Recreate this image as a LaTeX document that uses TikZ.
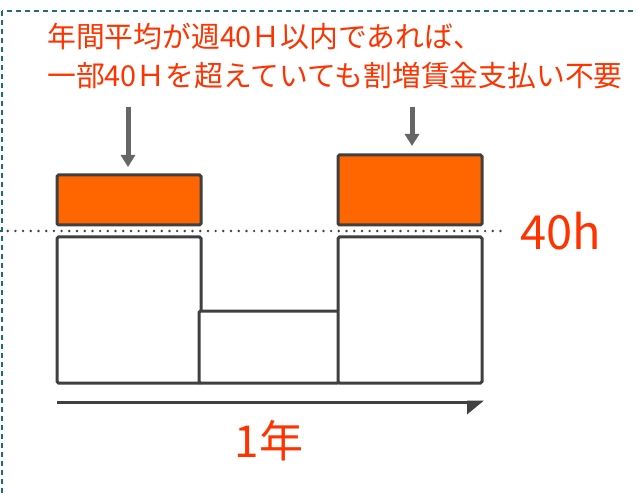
\documentclass[tikz,border=0pt]{standalone}
\usepackage{fontspec}
\setmainfont{Noto Sans CJK JP}
\usetikzlibrary{arrows.meta}
\definecolor{txtred}{HTML}{FF3300}
\definecolor{fillor}{HTML}{FF6600}
\definecolor{edgegray}{HTML}{404040}
\definecolor{arrgray}{HTML}{666666}
\definecolor{bordercol}{HTML}{1F6E6B}
\begin{document}
\begin{tikzpicture}[x=1pt,y=-1pt,
  barbox/.style={draw=edgegray, line width=3pt, rounded corners=1.5pt, minimum width=144pt, inner sep=0pt, outer sep=0pt},
  hotbox/.style={barbox, fill=fillor},
  plainbox/.style={barbox, fill=white},
  downarr/.style={draw=arrgray, line width=5pt, -{Triangle[width=14pt,length=12pt]}},
  redtxt/.style={text=txtred, inner sep=0pt},
  bigtxt/.style={redtxt, font=\fontsize{44}{48}\selectfont},
  captxt/.style={redtxt, font=\fontsize{28.8}{32}\selectfont}
]
\useasboundingbox (0,0) rectangle (637,494);
\clip (0,0) rectangle (637,494);
\fill[white] (0,0) rectangle (637,494);
\draw[bordercol, line width=1.6pt, dash pattern=on 5pt off 4pt] (2,11) rectangle (700,560);

% caption
\node[captxt, anchor=base west] (t1) at (47,48) {年間平均が週40Ｈ以内であれば、};
\node[captxt, anchor=base west] (t2) at (47,87) {一部40Ｈを超えていても割増賃金支払い不要};

% white bars
\node[plainbox, minimum height=146pt] (w1) at (129,310) {};
\node[plainbox, minimum width=140pt, minimum height=72pt] (w2) at (269,347) {};
\node[plainbox, minimum height=146pt] (w3) at (410,310) {};

% orange bars
\node[hotbox, minimum height=50pt] (o1) at (129,200) {};
\node[hotbox, minimum height=70pt] (o2) at (410,190) {};

% dotted 40h line
\coordinate (d1) at (0,231);
\coordinate (d2) at (504,231);
\draw[edgegray, line width=2.7pt, line cap=round, dash pattern=on 0pt off 7.7pt] (d1) -- (d2);
\node[bigtxt, font=\fontsize{47}{50}\selectfont, anchor=west] (h40) at (520,231) {40h};

% arrows
\coordinate (a1s) at (128,107);
\coordinate (a1e) at (128,167);
\coordinate (a2s) at (412,107);
\coordinate (a2e) at (412,146);
\draw[downarr] (a1s) -- (a1e);
\draw[downarr] (a2s) -- (a2e);

% time axis
\coordinate (x1) at (57,402);
\coordinate (x2) at (470,402);
\draw[edgegray, line width=3pt] (x1) -- (x2);
\fill[edgegray] (467,400.5) -- (484,400.5) -- (467,414.5) -- cycle;
\node[bigtxt] (yr) at (269,441) {1年};
\end{tikzpicture}
\end{document}
